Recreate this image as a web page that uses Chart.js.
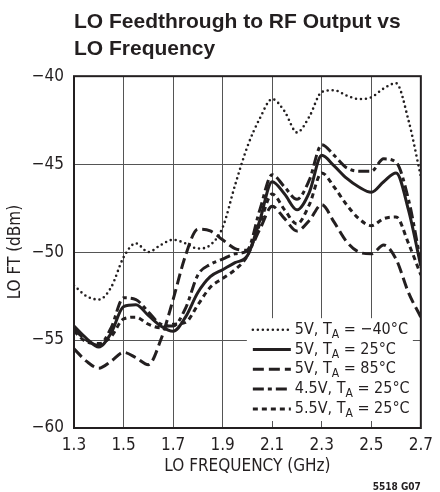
<!DOCTYPE html>
<html>
<head>
<meta charset="utf-8">
<script src="https://cdn.jsdelivr.net/npm/chart.js@4.4.1/dist/chart.umd.min.js"></script>
<style>
  html, body { margin: 0; padding: 0; background: #fff; }
</style>
</head>
<body>
<canvas id="loChart" width="440" height="492"></canvas>
<script>
// LO frequency (GHz)
const freqs = [1.30, 1.35, 1.40, 1.45, 1.50, 1.55, 1.60, 1.65, 1.70, 1.75,
               1.80, 1.85, 1.90, 1.95, 2.00, 2.05, 2.10, 2.15, 2.20, 2.25,
               2.30, 2.35, 2.40, 2.45, 2.50, 2.55, 2.60, 2.65, 2.70];
const ticksX = [1.3, 1.5, 1.7, 1.9, 2.1, 2.3, 2.5, 2.7];
const ticksY = [-60, -55, -50, -45, -40];

// LO FT (dBm)
const ft5vMinus40 = [-51.9, -52.5, -52.7, -52.0, -50.3, -49.5, -50.0, -49.6, -49.3, -49.5,
                     -49.8, -49.6, -48.6, -46.2, -44.0, -42.4, -41.3, -42.0, -43.2, -42.3,
                     -40.9, -40.8, -41.1, -41.3, -41.2, -40.7, -40.4, -42.5, -45.7];
const ft5v25 = [-54.2, -54.9, -55.4, -54.6, -53.1, -53.0, -53.6, -54.2, -54.5, -53.7,
                -52.3, -51.4, -51.0, -50.6, -50.2, -48.2, -46.0, -46.7, -47.6, -46.6,
                -44.5, -45.1, -45.8, -46.3, -46.6, -46.0, -45.5, -47.6, -50.8];
const ft5v85 = [-55.5, -56.2, -56.6, -56.2, -55.7, -56.0, -56.4, -55.0, -52.7, -50.2,
                -48.7, -48.8, -49.3, -49.8, -49.9, -48.7, -47.4, -48.1, -48.8, -48.2,
                -47.3, -48.3, -49.4, -50.0, -50.1, -49.6, -50.4, -52.3, -53.7];
const ft45v25 = [-54.4, -55.0, -55.3, -54.3, -52.6, -52.7, -53.4, -54.1, -54.2, -53.2,
                 -51.3, -50.7, -50.4, -50.1, -49.9, -47.6, -45.6, -46.3, -47.0, -45.9,
                 -43.9, -44.5, -45.2, -45.4, -45.4, -44.7, -44.9, -47.0, -50.6];
const ft55v25 = [-54.5, -55.1, -55.2, -54.8, -53.8, -53.7, -54.1, -54.3, -54.1, -54.0,
                 -53.0, -52.0, -51.5, -51.0, -50.2, -48.4, -46.7, -47.6, -48.4, -47.3,
                 -45.5, -46.3, -47.3, -48.1, -48.5, -48.1, -48.0, -49.5, -51.3];

// legend text: [before subscript, subscript, after subscript]
const legendTexts = [
  ['5V, T', 'A', ' = \u221240\u00b0C'],
  ['5V, T', 'A', ' = 25\u00b0C'],
  ['5V, T', 'A', ' = 85\u00b0C'],
  ['4.5V, T', 'A', ' = 25\u00b0C'],
  ['5.5V, T', 'A', ' = 25\u00b0C']
];

const ink = '#231f20';
const narrow = "'Liberation Sans Narrow', 'DejaVu Sans Condensed', sans-serif";

const styles = [
  { dash: [0, 5], width: 2.6, cap: 'round' },
  { dash: [], width: 3, cap: 'butt' },
  { dash: [11, 5], width: 3, cap: 'butt' },
  { dash: [11, 4, 4, 4], width: 3, cap: 'butt' },
  { dash: [5, 4], width: 3, cap: 'butt' }
];
const seriesValues = [ft5vMinus40, ft5v25, ft5v85, ft45v25, ft55v25];

const datasets = seriesValues.map((vals, i) => ({
  label: legendTexts[i].join(''),
  data: freqs.map((f, j) => ({ x: f, y: vals[j] })),
  borderColor: ink,
  borderWidth: styles[i].width,
  borderDash: styles[i].dash,
  borderCapStyle: styles[i].cap,
  pointRadius: 0,
  fill: false,
  cubicInterpolationMode: 'monotone'
}));

const minusFmt = v => (v < 0 ? '\u2212' + Math.abs(v) : String(v));

const boxLegend = {
  id: 'boxLegend',
  afterDatasetsDraw(chart) {
    const { ctx, chartArea: a } = chart;
    const left = a.right - 174, right = a.right - 8;
    const top = a.top + 242, bottom = a.bottom - 7;
    ctx.save();
    ctx.fillStyle = '#fff';
    ctx.fillRect(left, top, right - left, bottom - top);
    legendTexts.forEach((parts, i) => {
      const y = top + 11.5 + i * 19.8;
      ctx.strokeStyle = ink;
      ctx.lineWidth = styles[i].width;
      ctx.lineCap = styles[i].cap;
      ctx.setLineDash(styles[i].dash);
      ctx.beginPath();
      ctx.moveTo(left + 6, y);
      ctx.lineTo(left + 44, y);
      ctx.stroke();
      ctx.setLineDash([]);
      ctx.fillStyle = ink;
      ctx.textBaseline = 'middle';
      ctx.textAlign = 'left';
      let x = left + 48;
      ctx.font = '16px ' + narrow;
      ctx.fillText(parts[0], x, y);
      x += ctx.measureText(parts[0]).width;
      ctx.font = '12px ' + narrow;
      ctx.fillText(parts[1], x, y + 5);
      x += ctx.measureText(parts[1]).width;
      ctx.font = '16px ' + narrow;
      ctx.fillText(parts[2], x, y);
    });
    // plot frame
    ctx.strokeStyle = ink;
    ctx.lineWidth = 2;
    ctx.strokeRect(a.left, a.top, a.right - a.left, a.bottom - a.top);
    // figure code
    ctx.font = 'bold 10px ' + narrow;
    ctx.textAlign = 'right';
    ctx.textBaseline = 'alphabetic';
    ctx.fillText('5518 G07', a.right, chart.height - 2);
    ctx.restore();
  }
};

Chart.defaults.font.family = narrow;
Chart.defaults.color = ink;

new Chart(document.getElementById('loChart'), {
  type: 'line',
  data: { datasets: datasets },
  options: {
    responsive: false,
    animation: false,
    layout: { padding: { left: 0, right: 14, top: 0, bottom: 0 } },
    plugins: {
      legend: { display: false },
      tooltip: { enabled: false },
      title: {
        display: true,
        text: ['LO Feedthrough to RF Output vs', 'LO Frequency'],
        align: 'start',
        fullSize: false,
        color: ink,
        font: { family: "'Liberation Sans', sans-serif", size: 21, weight: 'bold', lineHeight: 1.29 },
        padding: { top: 9, bottom: 13 }
      }
    },
    scales: {
      x: {
        type: 'linear',
        min: 1.3,
        max: 2.7,
        afterBuildTicks: s => { s.ticks = ticksX.map(v => ({ value: v })); },
        afterFit: s => { s.height = 64; },
        grid: { color: '#555', lineWidth: 1, drawTicks: false },
        border: { display: false },
        ticks: { padding: 7, autoSkip: false, maxRotation: 0, font: { size: 17 }, callback: v => v.toFixed(1) },
        title: { display: true, text: 'LO FREQUENCY (GHz)', font: { size: 17 }, padding: { bottom: 15 } }
      },
      y: {
        min: -60,
        max: -40,
        afterBuildTicks: s => { s.ticks = ticksY.map(v => ({ value: v })); },
        afterFit: s => { s.width = 74; },
        grid: { color: '#555', lineWidth: 1, drawTicks: false },
        border: { display: false },
        ticks: { padding: 10, font: { size: 17 }, callback: v => minusFmt(v) },
        title: { display: true, text: 'LO FT (dBm)', font: { size: 17 }, padding: { top: 5 } }
      }
    }
  },
  plugins: [boxLegend]
});
</script>
</body>
</html>
